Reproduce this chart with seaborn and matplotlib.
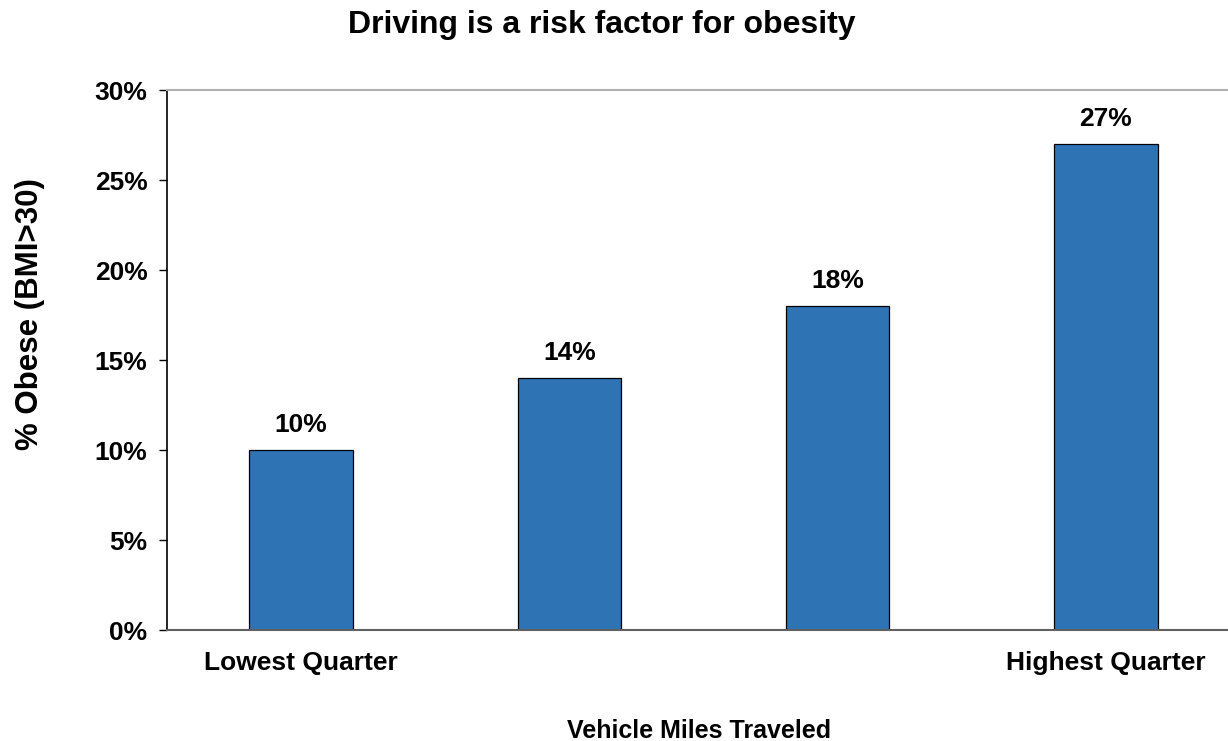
import matplotlib
matplotlib.use("Agg")
import matplotlib.pyplot as plt
import seaborn as sns
import pandas as pd
from matplotlib.ticker import FixedLocator

quarters = ["Q1", "Q2", "Q3", "Q4"]
obese_pct = [10, 14, 18, 27]
tick_labels = ["Lowest Quarter", "", "", "Highest Quarter"]

df = pd.DataFrame({"Quarter": quarters, "Obese": obese_pct})

sns.set_style("white")
plt.rcParams["font.family"] = ["Liberation Sans", "DejaVu Sans"]
plt.rcParams["text.color"] = "black"
plt.rcParams["xtick.color"] = "black"
plt.rcParams["ytick.color"] = "black"

fig = plt.figure(figsize=(12.28, 7.41), dpi=100)
# plot area runs slightly past the right edge, as in the original
ax = fig.add_axes([167 / 1228, 1 - 630 / 741, (1240 - 167) / 1228, (630 - 90) / 741])

sns.barplot(x="Quarter", y="Obese", data=df, color="#2E74B5", saturation=1,
            width=0.385, edgecolor="black", linewidth=0.9, ax=ax)

ax.set_xlim(-0.5, 3.5)
ax.set_ylim(0, 30)
ax.set_yticks(range(0, 31, 5))
ax.set_yticklabels([f"{v}%" for v in range(0, 31, 5)], fontsize=19, fontweight="bold")
ax.set_xticks(range(4))
ax.set_xticklabels(tick_labels, fontsize=19, fontweight="bold")
ax.tick_params(axis="x", which="major", length=0, pad=15)
ax.xaxis.set_minor_locator(FixedLocator([-0.5, 0.5, 1.5, 2.5, 3.5]))
ax.tick_params(axis="x", which="minor", length=7, width=1, color="black", direction="out")
ax.tick_params(axis="y", length=6, width=1, color="black", direction="out", left=True, pad=8)

for i, v in enumerate(obese_pct):
    ax.text(i, v + 0.75, f"{v}%", ha="center", va="bottom", fontsize=19, fontweight="bold")

ax.spines["left"].set_color("black")
ax.spines["left"].set_linewidth(1.2)
ax.spines["bottom"].set_color("#606060")
ax.spines["bottom"].set_linewidth(1.5)
ax.spines["top"].set_color("#b0b0b0")
ax.spines["top"].set_linewidth(1.5)
ax.spines["right"].set_visible(False)

ax.set_xlabel("")
ax.set_ylabel("")
fig.text(30 / 1228, 1 - 314 / 741, "% Obese (BMI>30)", rotation=90, ha="center", va="center",
         fontsize=22.5, fontweight="bold")
fig.text(699 / 1228, 1 - 731 / 741, "Vehicle Miles Traveled", ha="center", va="center",
         fontsize=18, fontweight="bold")
fig.text(602 / 1228, 1 - 25 / 741, "Driving is a risk factor for obesity", ha="center",
         va="center", fontsize=23, fontweight="bold")

fig.savefig("out.png", dpi=100)
